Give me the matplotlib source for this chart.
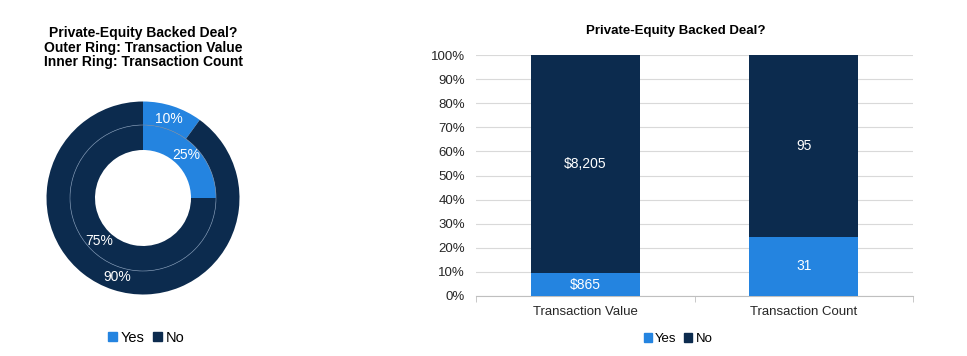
import matplotlib.pyplot as plt
from matplotlib.patches import Patch, Circle

plt.rcParams['font.family'] = ['Liberation Sans', 'DejaVu Sans']

# data
series = ['Yes', 'No']
ring_outer = [10, 90]   # transaction value share (%)
ring_inner = [25, 75]   # transaction count share (%)
categories = ['Transaction Value', 'Transaction Count']
yes_vals = [865, 31]
no_vals = [8205, 95]
yes_labels = ['$865', '31']
no_labels = ['$8,205', '95']

blue = '#2484E0'
navy = '#0C2B4E'
colors = [blue, navy]

fig = plt.figure(figsize=(9.67, 3.56), dpi=100)

# ---- donut ----
W, H = 967, 356
cx, cy, half = 143, 198, 100
ax1 = fig.add_axes([(cx - half) / W, (H - cy - half) / H, 2 * half / W, 2 * half / H])
ax1.pie(ring_outer, radius=0.965, colors=colors, startangle=90, counterclock=False,
        wedgeprops=dict(width=0.235, linewidth=0), autopct='%d%%', pctdistance=0.86,
        textprops=dict(color='white', fontsize=10))
ax1.pie(ring_inner, radius=0.73, colors=colors, startangle=90, counterclock=False,
        wedgeprops=dict(width=0.25, linewidth=0), autopct='%d%%', pctdistance=0.84,
        textprops=dict(color='white', fontsize=10))
# faint line between the two rings
ax1.add_patch(Circle((0, 0), 0.73, fill=False, edgecolor='#6A84A3', linewidth=0.5, zorder=5))
ax1.set_xlim(-1, 1)
ax1.set_ylim(-1, 1)
ax1.set_aspect('equal')

fig.text(143.5 / W, 1 - 26 / H,
         'Private-Equity Backed Deal?\nOuter Ring: Transaction Value\nInner Ring: Transaction Count',
         ha='center', va='top', fontsize=10, fontweight='bold', linespacing=1.05)

handles = [Patch(color=c, label=s) for c, s in zip(colors, series)]
fig.legend(handles=handles, loc='center', bbox_to_anchor=(146 / W, 1 - 338 / H), ncol=2,
           frameon=False, fontsize=10.5, handlelength=0.6, handleheight=0.6,
           handletextpad=0.25, columnspacing=0.6)

# ---- stacked 100% bars ----
ax2 = fig.add_axes([476 / W, 1 - 296 / H, 437 / W, 241 / H])
x = range(len(categories))
yes_pct = [100 * y / (y + n) for y, n in zip(yes_vals, no_vals)]
no_pct = [100 * n / (y + n) for y, n in zip(yes_vals, no_vals)]
b1 = ax2.bar(x, yes_pct, width=0.5, color=blue, zorder=3)
b2 = ax2.bar(x, no_pct, width=0.5, bottom=yes_pct, color=navy, zorder=3)
ax2.bar_label(b1, labels=yes_labels, label_type='center', color='white', fontsize=10)
ax2.bar_label(b2, labels=no_labels, label_type='center', color='white', fontsize=10)

ax2.set_xlim(-0.5, 1.5)
ax2.set_ylim(0, 100)
ax2.set_yticks(range(0, 101, 10))
ax2.set_yticklabels([f'{v}%' for v in range(0, 101, 10)])
ax2.set_xticks(list(x))
ax2.set_xticklabels(categories)
ax2.set_xticks([-0.5, 0.5, 1.5], minor=True)
ax2.tick_params(axis='x', which='major', length=0, pad=7, labelsize=9.5, colors='#262626')
ax2.tick_params(axis='x', which='minor', length=4, color='#BFBFBF')
ax2.tick_params(axis='y', length=0, pad=8, labelsize=9.5, colors='#262626')
ax2.grid(axis='y', color='#D9D9D9', linewidth=0.8, zorder=0)
for side in ['top', 'right', 'left']:
    ax2.spines[side].set_visible(False)
ax2.spines['bottom'].set_color('#BFBFBF')

fig.text(676 / W, 1 - 31 / H, 'Private-Equity Backed Deal?', ha='center', va='center',
         fontsize=9.5, fontweight='bold')
fig.legend(handles=handles, loc='center', bbox_to_anchor=(678 / W, 1 - 339 / H), ncol=2,
           frameon=False, fontsize=9.5, handlelength=0.6, handleheight=0.6,
           handletextpad=0.25, columnspacing=0.6)

fig.savefig('out.png', dpi=100)
